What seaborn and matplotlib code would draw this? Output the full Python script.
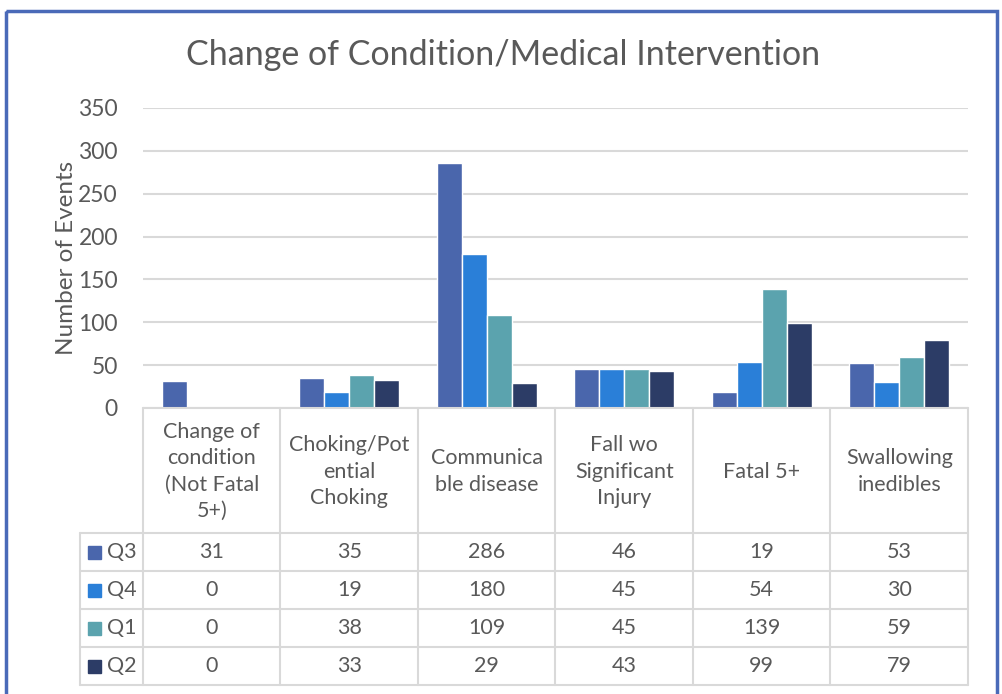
import matplotlib
matplotlib.use("Agg")
import matplotlib.pyplot as plt
import seaborn as sns
import pandas as pd
from matplotlib.patches import Rectangle

categories = ["Change of condition (Not Fatal 5+)", "Choking/Potential Choking",
              "Communicable disease", "Fall wo Significant Injury",
              "Fatal 5+", "Swallowing inedibles"]
header_labels = ["Change of\ncondition\n(Not Fatal\n5+)", "Choking/Pot\nential\nChoking",
                 "Communica\nble disease", "Fall wo\nSignificant\nInjury",
                 "Fatal 5+", "Swallowing\ninedibles"]
quarters = ["Q3", "Q4", "Q1", "Q2"]
q3 = [31, 35, 286, 46, 19, 53]
q4 = [0, 19, 180, 45, 54, 30]
q1 = [0, 38, 109, 45, 139, 59]
q2 = [0, 33, 29, 43, 99, 79]
colors = ["#4A66AC", "#2A7FD8", "#5BA3AE", "#2C3C66"]

series = {"Q3": q3, "Q4": q4, "Q1": q1, "Q2": q2}
rows = []
for q in quarters:
    for c, v in zip(categories, series[q]):
        rows.append({"category": c, "quarter": q, "value": v})
df = pd.DataFrame(rows)

sns.set_style("white")
plt.rcParams["font.family"] = ["Lato", "DejaVu Sans"]
txt = "#595959"
grid = "#D9D9D9"

W, H = 1003, 694
fig = plt.figure(figsize=(W / 100, H / 100), dpi=100)

# pixel geometry
x0, x1 = 143, 968
ytop, ybot = 108, 408
ax = fig.add_axes([x0 / W, 1 - ybot / H, (x1 - x0) / W, (ybot - ytop) / H])
sns.barplot(data=df, x="category", y="value", hue="quarter", order=categories,
            hue_order=quarters, palette=colors, saturation=1, width=0.73, ax=ax)
ax.legend_.remove()
ax.set_ylim(0, 350)
ax.set_xlim(-0.5, len(categories) - 0.5)
ax.set_yticks(range(0, 351, 50))
ax.yaxis.grid(True, color=grid, linewidth=1.5)
ax.set_axisbelow(True)
for s in ax.spines.values():
    s.set_visible(False)
ax.set_xticks([])
ax.set_xlabel("")
ax.tick_params(axis="y", length=0, pad=18, labelsize=16.5, labelcolor=txt)
ax.set_ylabel("Number of Events", fontsize=17.5, color=txt, labelpad=1)

# overlay in pixel coords for table, title and frame
ov = fig.add_axes([0, 0, 1, 1])
ov.set_xlim(0, W)
ov.set_ylim(H, 0)
ov.axis("off")
ov.patch.set_alpha(0)

ov.text(503, 55, "Change of Condition/Medical Intervention", ha="center", va="center",
        fontsize=24.5, color=txt)

colw = (x1 - x0) / len(categories)
row_top = 533
row_h = 38
lx = 80
lw = 1.5
# horizontal lines
ov.plot([x0, x1], [ybot, ybot], color=grid, lw=lw)
for i in range(len(quarters) + 1):
    y = row_top + i * row_h
    ov.plot([lx, x1], [y, y], color=grid, lw=lw)
# vertical lines
ov.plot([lx, lx], [row_top, row_top + 4 * row_h], color=grid, lw=lw)
for j in range(len(categories) + 1):
    x = x0 + j * colw
    ov.plot([x, x], [ybot, row_top + 4 * row_h], color=grid, lw=lw)

for j, lab in enumerate(header_labels):
    ov.text(x0 + (j + 0.5) * colw, (ybot + row_top) / 2 + 1, lab, ha="center", va="center",
            fontsize=15.5, color=txt, linespacing=1.38)

for i, q in enumerate(quarters):
    yc = row_top + (i + 0.5) * row_h
    ov.add_patch(Rectangle((88, yc - 6.5), 13, 13, color=colors[i]))
    ov.text(107, yc, q, ha="left", va="center", fontsize=15.5, color=txt)
    for j, v in enumerate(series[q]):
        ov.text(x0 + (j + 0.5) * colw, yc, str(v), ha="center", va="center",
                fontsize=15.5, color=txt)

# outer frame
ov.add_patch(Rectangle((6.5, 10.5), 991, 700, fill=False, edgecolor="#4A6AB8", lw=2.5))

fig.savefig("out.png", dpi=100)
